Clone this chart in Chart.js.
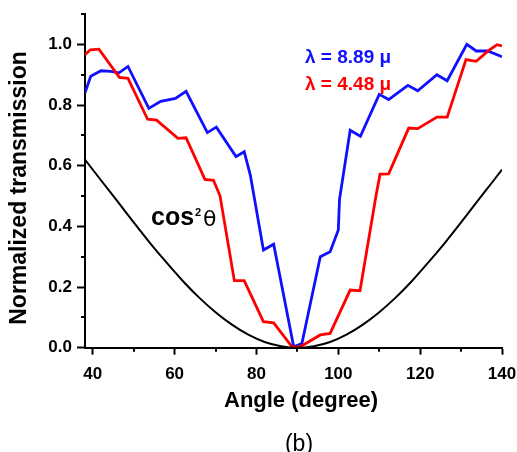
<!DOCTYPE html>
<html>
<head>
<meta charset="utf-8">
<script src="https://cdn.jsdelivr.net/npm/chart.js@4.4.1/dist/chart.umd.min.js"></script>
<style>
  html, body { margin: 0; padding: 0; background: #ffffff; }
  #wrap { width: 517px; height: 452px; }
</style>
</head>
<body>
<div id="wrap"><canvas id="c" width="517" height="452"></canvas></div>
<script>
// Transmission vs. polarizer angle, λ = 8.89 µm
const blueAngle = [38.1, 39.5, 42.0, 44.4, 46.4, 48.6, 53.7, 56.6, 60.2, 62.8, 68.0, 70.2, 75.0, 77.0, 78.5, 81.7, 84.2, 89.1, 91.1, 95.6, 98.0, 100.0, 100.3, 102.9, 105.4, 110.0, 112.3, 117.0, 119.4, 124.1, 126.6, 131.4, 133.7, 136.5, 140.0];
const blueT     = [0.840, 0.895, 0.913, 0.911, 0.906, 0.927, 0.789, 0.812, 0.822, 0.845, 0.709, 0.727, 0.630, 0.646, 0.569, 0.322, 0.341, 0.003, 0.014, 0.300, 0.316, 0.388, 0.490, 0.717, 0.697, 0.835, 0.818, 0.865, 0.847, 0.900, 0.880, 1.000, 0.978, 0.978, 0.959];

// Transmission vs. polarizer angle, λ = 4.48 µm
const redAngle = [38.1, 39.4, 41.5, 46.5, 48.6, 53.4, 55.6, 60.8, 62.8, 67.4, 69.5, 71.1, 74.6, 77.0, 81.7, 84.2, 88.7, 90.7, 95.6, 98.0, 102.9, 105.3, 109.2, 110.2, 112.3, 117.2, 119.4, 124.1, 126.6, 131.2, 133.7, 136.7, 138.8, 140.0];
const redT     = [0.966, 0.982, 0.984, 0.891, 0.888, 0.753, 0.750, 0.690, 0.692, 0.555, 0.552, 0.500, 0.221, 0.221, 0.086, 0.082, 0.003, 0.003, 0.042, 0.047, 0.190, 0.188, 0.500, 0.572, 0.573, 0.724, 0.722, 0.760, 0.760, 0.950, 0.944, 0.979, 0.999, 0.995];

// cos²θ reference curve
const cosAngle = [38.1, 42, 46, 50, 54, 58, 62, 66, 70, 74, 78, 82, 86, 90, 94, 98, 102, 106, 110, 114, 118, 122, 126, 130, 134, 138, 140];
const cosT     = [0.620, 0.552, 0.483, 0.413, 0.345, 0.281, 0.220, 0.165, 0.117, 0.076, 0.043, 0.019, 0.005, 0.000, 0.005, 0.019, 0.043, 0.076, 0.117, 0.165, 0.220, 0.281, 0.345, 0.413, 0.483, 0.552, 0.587];

// Axis ticks
const xTicks = [40, 60, 80, 100, 120, 140];
const xMinor = [50, 70, 90, 110, 130];
const yTicks = [0.0, 0.2, 0.4, 0.6, 0.8, 1.0];
const yMinor = [0.1, 0.3, 0.5, 0.7, 0.9, 1.1];

const toPoints = (xs, ys) => xs.map((x, i) => ({ x: x, y: ys[i] }));

const FONT = '"Liberation Sans", Arial, Helvetica, sans-serif';

// Short minor tick marks plus the text annotations
const decorations = {
  id: 'decorations',
  afterDraw(chart) {
    const ctx = chart.ctx;
    const xs = chart.scales.x, ys = chart.scales.y;
    const area = chart.chartArea;
    ctx.save();
    ctx.strokeStyle = '#000';
    ctx.lineWidth = 2;
    ctx.beginPath();
    xMinor.forEach(v => {
      const px = Math.round(xs.getPixelForValue(v));
      ctx.moveTo(px, area.bottom);
      ctx.lineTo(px, area.bottom + 4);
    });
    yMinor.forEach(v => {
      const py = Math.round(ys.getPixelForValue(v));
      ctx.moveTo(area.left, py);
      ctx.lineTo(area.left - 4, py);
    });
    ctx.stroke();

    ctx.fillStyle = '#000';
    ctx.textBaseline = 'middle';
    ctx.textAlign = 'center';
    // axis titles
    ctx.font = 'bold 22px ' + FONT;
    ctx.fillText('Angle (degree)', 301, 401);
    ctx.save();
    ctx.translate(20, 188);
    ctx.rotate(-Math.PI / 2);
    ctx.font = 'bold 23px ' + FONT;
    ctx.fillText('Normalized transmission', 0, 0);
    ctx.restore();
    // panel label
    ctx.textBaseline = 'alphabetic';
    ctx.font = '23px ' + FONT;
    ctx.fillText('(b)', 299, 451);

    // series labels
    ctx.textAlign = 'left';
    ctx.textBaseline = 'middle';
    ctx.font = 'bold 19px ' + FONT;
    ctx.fillStyle = '#1010ff';
    ctx.fillText('λ = 8.89 μ', 305, 58);
    ctx.fillStyle = '#ff0000';
    ctx.fillText('λ = 4.48 μ', 305, 85);

    // cos²θ
    ctx.fillStyle = '#000';
    ctx.textBaseline = 'alphabetic';
    ctx.font = 'bold 25px ' + FONT;
    ctx.fillText('cos', 151, 225);
    const w = ctx.measureText('cos').width;
    ctx.font = 'bold 11px ' + FONT;
    ctx.fillText('2', 151 + w + 1, 216);
    ctx.font = '22px "DejaVu Sans", ' + FONT;
    ctx.fillText('θ', 151 + w + 9, 226);
    ctx.restore();
  }
};

new Chart(document.getElementById('c'), {
  type: 'scatter',
  data: {
    datasets: [
      { label: 'cos2', data: toPoints(cosAngle, cosT), showLine: true, borderColor: '#000000', borderWidth: 2, pointRadius: 0, cubicInterpolationMode: 'monotone', fill: false },
      { label: '4.48', data: toPoints(redAngle, redT), showLine: true, borderColor: '#ff0000', borderWidth: 2.8, pointRadius: 0, tension: 0, fill: false },
      { label: '8.89', data: toPoints(blueAngle, blueT), showLine: true, borderColor: '#1010ff', borderWidth: 2.8, pointRadius: 0, tension: 0, fill: false }
    ]
  },
  options: {
    responsive: false,
    animation: false,
    devicePixelRatio: 1,
    layout: { padding: { top: 14, right: 15, bottom: 0, left: 0 } },
    plugins: { legend: { display: false }, tooltip: { enabled: false }, title: { display: false } },
    scales: {
      x: {
        type: 'linear',
        min: 38.1,
        max: 140,
        afterBuildTicks: s => { s.ticks = xTicks.map(v => ({ value: v })); },
        afterFit: s => { s.height = 104.3; s.paddingLeft = 0; s.paddingRight = 0; },
        grid: { display: true, drawOnChartArea: false, drawTicks: true, tickLength: 7, tickColor: '#000', tickWidth: 2 },
        border: { display: true, color: '#000', width: 2 },
        ticks: { color: '#000', font: { family: FONT, size: 17, weight: 'bold' }, padding: 9, maxRotation: 0, callback: v => String(v) }
      },
      y: {
        type: 'linear',
        min: 0,
        max: 1.1,
        afterBuildTicks: s => { s.ticks = yTicks.map(v => ({ value: v })); },
        afterFit: s => { s.width = 85; s.paddingTop = 0; s.paddingBottom = 0; },
        grid: { display: true, drawOnChartArea: false, drawTicks: true, tickLength: 8, tickColor: '#000', tickWidth: 2 },
        border: { display: true, color: '#000', width: 2 },
        ticks: { color: '#000', font: { family: FONT, size: 17, weight: 'bold' }, padding: 5, callback: v => Number(v).toFixed(1) }
      }
    }
  },
  plugins: [decorations]
});
</script>
</body>
</html>
